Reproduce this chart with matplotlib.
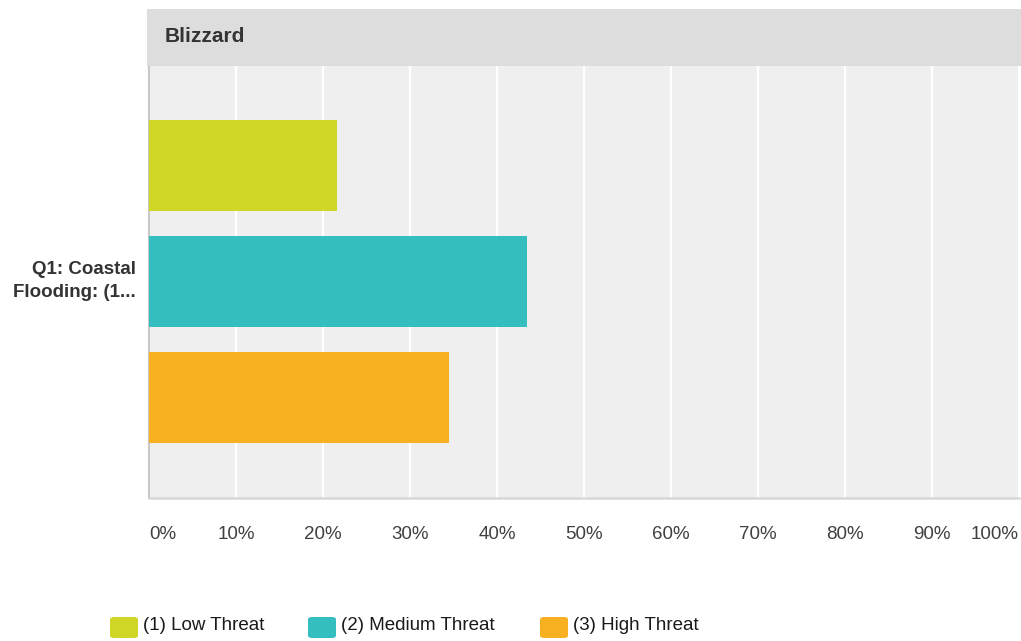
import matplotlib
matplotlib.use("Agg")
import matplotlib.pyplot as plt
from matplotlib.patches import Rectangle, FancyBboxPatch

plt.rcParams['font.family'] = 'Liberation Sans'

# Survey results for the "Blizzard" panel
question = "Q1: Coastal\nFlooding: (1..."
panel_title = "Blizzard"
series = ["(1) Low Threat", "(2) Medium Threat", "(3) High Threat"]
percents = [21.6, 43.5, 34.5]
colors = ["#d0d626", "#34bec0", "#f7b01f"]
tick_values = [0, 10, 20, 30, 40, 50, 60, 70, 80, 90, 100]
tick_labels = [f"{v}%" for v in tick_values]

W, H = 1021, 641
fig = plt.figure(figsize=(W / 100, H / 100), dpi=100)

def fx(px):
    return px / W

def fy(py):
    return 1 - py / H

# plot area
ax = fig.add_axes([fx(149), fy(498), fx(1019) - fx(149), fy(66) - fy(498)])
ax.set_facecolor("#efefef")
ax.set_xlim(0, 100)
ax.set_ylim(2.866, -0.858)

ax.set_xticks(tick_values)
ax.xaxis.grid(True, color="white", linewidth=1.6)
ax.set_axisbelow(True)

for i, (val, col) in enumerate(zip(percents, colors)):
    ax.barh(i, val, height=0.784, color=col, zorder=3)

ax.set_yticks([])
ax.tick_params(axis="x", length=0, pad=20.5, labelsize=13.5, labelcolor="#404040")
ax.set_xticklabels(tick_labels)
labels = ax.get_xticklabels()
labels[0].set_horizontalalignment("left")
labels[-1].set_horizontalalignment("right")

for side in ["top", "right"]:
    ax.spines[side].set_visible(False)
ax.spines["left"].set_color("#c8c8c8")
ax.spines["left"].set_linewidth(1.5)
ax.spines["bottom"].set_color("#d8d8d8")
ax.spines["bottom"].set_linewidth(1.8)

# category label
fig.text(fx(136), fy(281), question, ha="right", va="center", fontsize=13.5,
         fontweight="bold", color="#333333", linespacing=1.4)

# panel header
fig.patches.append(Rectangle((fx(147), fy(66)), fx(1021) - fx(147), fy(9) - fy(66),
                             transform=fig.transFigure, facecolor="#dddddd",
                             edgecolor="none"))
fig.text(fx(165), fy(36), panel_title, ha="left", va="center", fontsize=15,
         fontweight="bold", color="#333333")

# legend
legend_x = [110, 308, 540]
for x0, name, col in zip(legend_x, series, colors):
    fig.patches.append(FancyBboxPatch((fx(x0), fy(638)), fx(28), fy(617) - fy(638),
                                      boxstyle="round,pad=0,rounding_size=0.004",
                                      transform=fig.transFigure, facecolor=col,
                                      edgecolor="none"))
    fig.text(fx(x0 + 33), fy(626), name, ha="left", va="center", fontsize=13.5,
             color="#1a1a1a")

fig.savefig("out.png", dpi=100)
